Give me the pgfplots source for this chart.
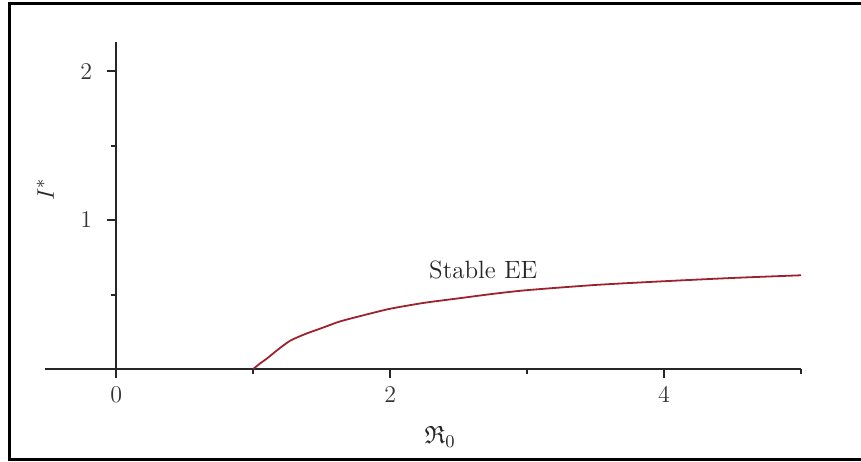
\documentclass[border=0pt]{standalone}
\usepackage{amssymb}
\usepackage{pgfplots}
\pgfplotsset{compat=1.18}
\definecolor{curvered}{RGB}{155,35,45}
\begin{document}
\begin{tikzpicture}
\begin{axis}[
  at={(22.5pt,46pt)}, anchor=south west,
  scale only axis, width=378pt, height=163.65pt,
  xmin=-0.52, xmax=5, ymin=0, ymax=2.2,
  axis x line=bottom, axis y line=center,
  axis line style={-, line width=1pt, black!85},
  hide obscured x ticks=false, hide obscured y ticks=false,
  xtick={0,2,4}, minor xtick={1,3,5},
  ytick={1,2}, minor ytick={0.5,1.5},
  tick align=outside,
  major tick length=4.5pt, minor tick length=2.5pt,
  every tick/.style={line width=1pt, black!85},
  xticklabel style={font=\fontsize{12}{14}\selectfont, text=black!80, yshift=-1pt},
  yticklabel style={font=\fontsize{12}{14}\selectfont, text=black!80, xshift=-4pt},
  clip=false,
]
\addplot[curvered, line width=0.9pt, smooth, tension=0.4] coordinates {
  (1.0,0) (1.05,0.037) (1.1,0.07) (1.18,0.13) (1.27,0.19) (1.38,0.235)
  (1.5,0.275) (1.635,0.32) (1.8,0.36) (2,0.405) (2.25,0.445) (2.5,0.475)
  (2.75,0.505) (3,0.53) (3.5,0.565) (4,0.59) (4.5,0.612) (5,0.63)
};
\node[font=\fontsize{12.5}{14}\selectfont, text=black!85] at (axis cs:2.68,0.667) {Stable EE};
\node[font=\fontsize{12.5}{14}\selectfont, text=black!85] at (axis cs:2.365,-0.458) {$\mathfrak{R}_0$};
\node[font=\fontsize{12.5}{14}\selectfont, text=black!85, rotate=90] at (axis cs:-0.518,1.207) {$I^*$};
\end{axis}
\draw[line width=1.5pt] (4.5pt,228.5pt) -- (432pt,228.5pt);
\draw[line width=1.5pt] (4.5pt,229.25pt) -- (4.5pt,1pt);
\draw[line width=1.5pt] (3.75pt,1pt) -- (432pt,1pt);
\pgfresetboundingbox
\path[use as bounding box] (0,0) rectangle (430.5pt,230.5pt);
\end{tikzpicture}
\end{document}
